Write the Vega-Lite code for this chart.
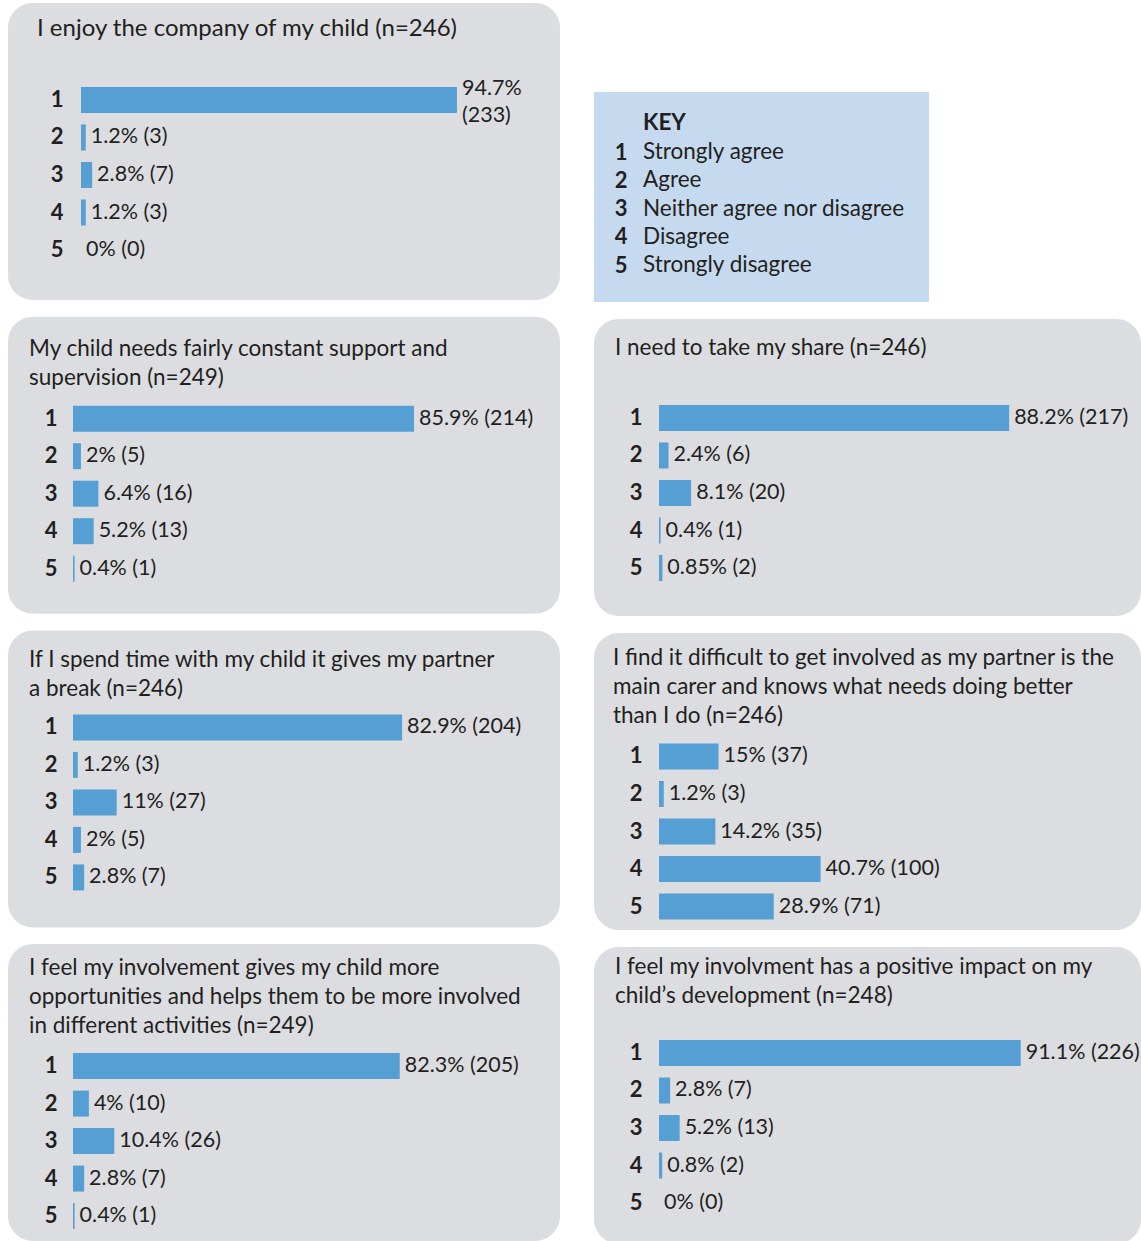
{
  "$schema": "https://vega.github.io/schema/vega-lite/v6.json",
  "padding": {"left": 8, "top": 3, "right": 0, "bottom": 0},
  "background": "white",
  "config": {
    "view": {"stroke": null},
    "font": "Lato",
    "axis": {"domain": false, "ticks": false, "grid": false, "labelFont": "Lato", "labelFontSize": 22, "labelFontWeight": "bold", "labelColor": "#231f20", "labelPadding": 0, "labelBaseline": "middle", "labelAngle": 0},
    "text": {"font": "Lato", "fontSize": 21.5, "color": "#231f20"},
    "bar": {"color": "#559fd4"},
    "title": {"font": "Lato", "fontSize": 22.5, "fontWeight": "normal", "color": "#231f20", "anchor": "start", "frame": "group", "baseline": "alphabetic", "lineHeight": 29}
  },
  "datasets": {
    "survey": [
      {"q": "q1", "cat": "1", "pct": 94.7, "n": 233, "label": "94.7%\n(233)"},
      {"q": "q1", "cat": "2", "pct": 1.2, "n": 3, "label": "1.2% (3)"},
      {"q": "q1", "cat": "3", "pct": 2.8, "n": 7, "label": "2.8% (7)"},
      {"q": "q1", "cat": "4", "pct": 1.2, "n": 3, "label": "1.2% (3)"},
      {"q": "q1", "cat": "5", "pct": 0, "n": 0, "label": "0% (0)"},
      {"q": "q2", "cat": "1", "pct": 85.9, "n": 214, "label": "85.9% (214)"},
      {"q": "q2", "cat": "2", "pct": 2, "n": 5, "label": "2% (5)"},
      {"q": "q2", "cat": "3", "pct": 6.4, "n": 16, "label": "6.4% (16)"},
      {"q": "q2", "cat": "4", "pct": 5.2, "n": 13, "label": "5.2% (13)"},
      {"q": "q2", "cat": "5", "pct": 0.4, "n": 1, "label": "0.4% (1)"},
      {"q": "q3", "cat": "1", "pct": 82.9, "n": 204, "label": "82.9% (204)"},
      {"q": "q3", "cat": "2", "pct": 1.2, "n": 3, "label": "1.2% (3)"},
      {"q": "q3", "cat": "3", "pct": 11, "n": 27, "label": "11% (27)"},
      {"q": "q3", "cat": "4", "pct": 2, "n": 5, "label": "2% (5)"},
      {"q": "q3", "cat": "5", "pct": 2.8, "n": 7, "label": "2.8% (7)"},
      {"q": "q4", "cat": "1", "pct": 82.3, "n": 205, "label": "82.3% (205)"},
      {"q": "q4", "cat": "2", "pct": 4, "n": 10, "label": "4% (10)"},
      {"q": "q4", "cat": "3", "pct": 10.4, "n": 26, "label": "10.4% (26)"},
      {"q": "q4", "cat": "4", "pct": 2.8, "n": 7, "label": "2.8% (7)"},
      {"q": "q4", "cat": "5", "pct": 0.4, "n": 1, "label": "0.4% (1)"},
      {"q": "q5", "cat": "1", "pct": 88.2, "n": 217, "label": "88.2% (217)"},
      {"q": "q5", "cat": "2", "pct": 2.4, "n": 6, "label": "2.4% (6)"},
      {"q": "q5", "cat": "3", "pct": 8.1, "n": 20, "label": "8.1% (20)"},
      {"q": "q5", "cat": "4", "pct": 0.4, "n": 1, "label": "0.4% (1)"},
      {"q": "q5", "cat": "5", "pct": 0.85, "n": 2, "label": "0.85% (2)"},
      {"q": "q6", "cat": "1", "pct": 15, "n": 37, "label": "15% (37)"},
      {"q": "q6", "cat": "2", "pct": 1.2, "n": 3, "label": "1.2% (3)"},
      {"q": "q6", "cat": "3", "pct": 14.2, "n": 35, "label": "14.2% (35)"},
      {"q": "q6", "cat": "4", "pct": 40.7, "n": 100, "label": "40.7% (100)"},
      {"q": "q6", "cat": "5", "pct": 28.9, "n": 71, "label": "28.9% (71)"},
      {"q": "q7", "cat": "1", "pct": 91.1, "n": 226, "label": "91.1% (226)"},
      {"q": "q7", "cat": "2", "pct": 2.8, "n": 7, "label": "2.8% (7)"},
      {"q": "q7", "cat": "3", "pct": 5.2, "n": 13, "label": "5.2% (13)"},
      {"q": "q7", "cat": "4", "pct": 0.8, "n": 2, "label": "0.8% (2)"},
      {"q": "q7", "cat": "5", "pct": 0, "n": 0, "label": "0% (0)"}
    ],
    "key": [
      {"num": "1", "desc": "Strongly agree"},
      {"num": "2", "desc": "Agree"},
      {"num": "3", "desc": "Neither agree nor disagree"},
      {"num": "4", "desc": "Disagree"},
      {"num": "5", "desc": "Strongly disagree"}
    ]
  },
  "spacing": 34,
  "hconcat": [
    {
      "spacing": 16.7,
      "bounds": "flush",
      "vconcat": [
        {
          "width": 552, "height": 297,
          "view": {"fill": "#dcdde0", "cornerRadius": 25, "stroke": null},
          "title": {"text": "I enjoy the company of my child (n=246)", "dx": 29, "offset": -37.5, "fontSize": 24},
          "data": {"name": "survey"},
          "transform": [{"filter": {"field": "q", "equal": "q1"}}],
          "encoding": {
            "y": {"field": "cat", "type": "ordinal", "title": null, "scale": {"range": [84, 260], "paddingInner": 0.3067, "paddingOuter": 0}, "axis": {"offset": -55}},
            "x": {"field": "pct", "type": "quantitative", "scale": {"domain": [0, 100], "range": [73, 470]}, "axis": null}
          },
          "layer": [
            {"mark": {"type": "bar"}},
            {"transform": [{"filter": {"field": "cat", "equal": "1"}}], "mark": {"type": "text", "align": "left", "baseline": "middle", "dx": 5, "dy": -11, "lineBreak": "\n", "lineHeight": 27}, "encoding": {"text": {"field": "label"}}},
            {"transform": [{"filter": {"not": {"field": "cat", "equal": "1"}}}], "mark": {"type": "text", "align": "left", "baseline": "middle", "dx": 5}, "encoding": {"text": {"field": "label"}}}
          ]
        },
        {
          "width": 552, "height": 297,
          "view": {"fill": "#dcdde0", "cornerRadius": 25, "stroke": null},
          "title": {"text": ["My child needs fairly constant support and", "supervision (n=249)"], "dx": 21, "offset": -72.5},
          "data": {"name": "survey"},
          "transform": [{"filter": {"field": "q", "equal": "q2"}}],
          "encoding": {
            "y": {"field": "cat", "type": "ordinal", "title": null, "scale": {"range": [89, 265], "paddingInner": 0.3067, "paddingOuter": 0}, "axis": {"offset": -49}},
            "x": {"field": "pct", "type": "quantitative", "scale": {"domain": [0, 100], "range": [65, 462]}, "axis": null}
          },
          "layer": [
            {"mark": {"type": "bar"}},
            {"mark": {"type": "text", "align": "left", "baseline": "middle", "dx": 5}, "encoding": {"text": {"field": "label"}}}
          ]
        },
        {
          "width": 552, "height": 297,
          "view": {"fill": "#dcdde0", "cornerRadius": 25, "stroke": null},
          "title": {"text": ["If I spend time with my child it gives my partner", "a break (n=246)"], "dx": 21, "offset": -70.5},
          "data": {"name": "survey"},
          "transform": [{"filter": {"field": "q", "equal": "q3"}}],
          "encoding": {
            "y": {"field": "cat", "type": "ordinal", "title": null, "scale": {"range": [84, 260], "paddingInner": 0.3067, "paddingOuter": 0}, "axis": {"offset": -49}},
            "x": {"field": "pct", "type": "quantitative", "scale": {"domain": [0, 100], "range": [65, 462]}, "axis": null}
          },
          "layer": [
            {"mark": {"type": "bar"}},
            {"mark": {"type": "text", "align": "left", "baseline": "middle", "dx": 5}, "encoding": {"text": {"field": "label"}}}
          ]
        },
        {
          "width": 552, "height": 297,
          "view": {"fill": "#dcdde0", "cornerRadius": 25, "stroke": null},
          "title": {"text": ["I feel my involvement gives my child more", "opportunities and helps them to be more involved", "in different activities (n=249)"], "dx": 21, "offset": -93},
          "data": {"name": "survey"},
          "transform": [{"filter": {"field": "q", "equal": "q4"}}],
          "encoding": {
            "y": {"field": "cat", "type": "ordinal", "title": null, "scale": {"range": [109, 285], "paddingInner": 0.3067, "paddingOuter": 0}, "axis": {"offset": -49}},
            "x": {"field": "pct", "type": "quantitative", "scale": {"domain": [0, 100], "range": [65, 462]}, "axis": null}
          },
          "layer": [
            {"mark": {"type": "bar"}},
            {"mark": {"type": "text", "align": "left", "baseline": "middle", "dx": 5}, "encoding": {"text": {"field": "label"}}}
          ]
        }
      ]
    },
    {
      "spacing": 17,
      "bounds": "flush",
      "vconcat": [
        {
          "width": 547, "height": 72,
          "view": {"fill": "#ffffff", "stroke": null},
          "data": {"values": [{"t": ""}]},
          "mark": {"type": "text"},
          "encoding": {"text": {"field": "t"}}
        },
        {
          "width": 335, "height": 210,
          "view": {"fill": "#c6daef", "stroke": null},
          "title": {"text": "KEY", "fontWeight": "bold", "dx": 49, "offset": -42.5},
          "data": {"name": "key"},
          "mark": {"type": "text", "align": "left", "baseline": "middle", "fontSize": 22.5},
          "encoding": {
            "y": {"field": "num", "type": "ordinal", "title": null, "scale": {"range": [60, 173], "padding": 0}, "axis": {"offset": -33}},
            "x": {"datum": 0, "type": "quantitative", "scale": {"domain": [0, 1], "range": [49, 300]}, "axis": null},
            "text": {"field": "desc"}
          }
        },
        {
          "width": 547, "height": 297,
          "view": {"fill": "#dcdde0", "cornerRadius": 25, "stroke": null},
          "title": {"text": "I need to take my share (n=246)", "dx": 21, "offset": -40.5},
          "data": {"name": "survey"},
          "transform": [{"filter": {"field": "q", "equal": "q5"}}],
          "encoding": {
            "y": {"field": "cat", "type": "ordinal", "title": null, "scale": {"range": [86, 262], "paddingInner": 0.3067, "paddingOuter": 0}, "axis": {"offset": -48}},
            "x": {"field": "pct", "type": "quantitative", "scale": {"domain": [0, 100], "range": [65, 462]}, "axis": null}
          },
          "layer": [
            {"mark": {"type": "bar"}},
            {"mark": {"type": "text", "align": "left", "baseline": "middle", "dx": 5}, "encoding": {"text": {"field": "label"}}}
          ]
        },
        {
          "width": 547, "height": 297,
          "view": {"fill": "#dcdde0", "cornerRadius": 25, "stroke": null},
          "title": {"text": ["I find it difficult to get involved as my partner is the", "main carer and knows what needs doing better", "than I do (n=246)"], "dx": 19, "offset": -94.5},
          "data": {"name": "survey"},
          "transform": [{"filter": {"field": "q", "equal": "q6"}}],
          "encoding": {
            "y": {"field": "cat", "type": "ordinal", "title": null, "scale": {"range": [110.5, 286.5], "paddingInner": 0.3067, "paddingOuter": 0}, "axis": {"offset": -48}},
            "x": {"field": "pct", "type": "quantitative", "scale": {"domain": [0, 100], "range": [65, 462]}, "axis": null}
          },
          "layer": [
            {"mark": {"type": "bar"}},
            {"mark": {"type": "text", "align": "left", "baseline": "middle", "dx": 5}, "encoding": {"text": {"field": "label"}}}
          ]
        },
        {
          "width": 547, "height": 297,
          "view": {"fill": "#dcdde0", "cornerRadius": 25, "stroke": null},
          "title": {"text": ["I feel my involvment has a positive impact on my", "child’s development (n=248)"], "dx": 21, "offset": -60.5},
          "data": {"name": "survey"},
          "transform": [{"filter": {"field": "q", "equal": "q7"}}],
          "encoding": {
            "y": {"field": "cat", "type": "ordinal", "title": null, "scale": {"range": [93, 269], "paddingInner": 0.3067, "paddingOuter": 0}, "axis": {"offset": -48}},
            "x": {"field": "pct", "type": "quantitative", "scale": {"domain": [0, 100], "range": [65, 462]}, "axis": null}
          },
          "layer": [
            {"mark": {"type": "bar"}},
            {"mark": {"type": "text", "align": "left", "baseline": "middle", "dx": 5}, "encoding": {"text": {"field": "label"}}}
          ]
        }
      ]
    }
  ]
}
